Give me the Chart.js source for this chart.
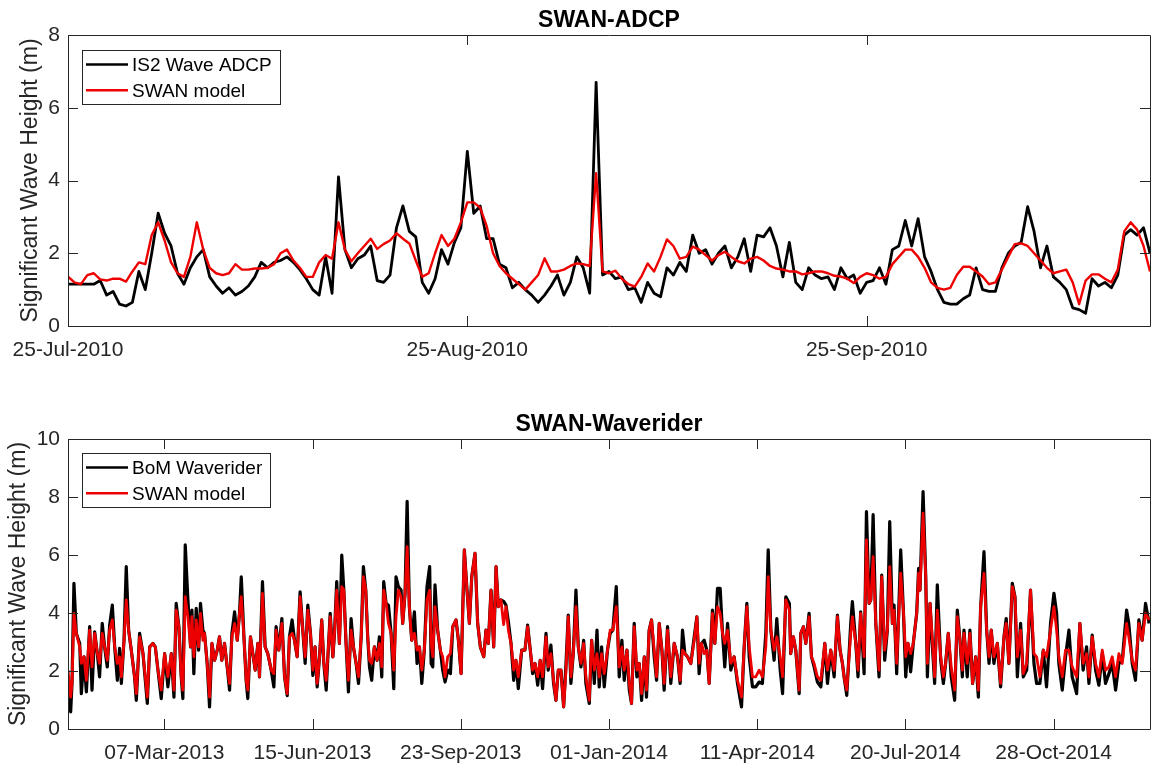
<!DOCTYPE html>
<html><head><meta charset="utf-8">
<script src="https://cdn.jsdelivr.net/npm/chart.js@4.4.1/dist/chart.umd.min.js"></script>
<style>
html,body{margin:0;padding:0;background:#fff;}
#wrap{position:relative;width:1151px;height:765px;overflow:hidden;}
#c1{position:absolute;left:0;top:0;}
#c2{position:absolute;left:0;top:370px;}
</style></head><body>
<div id="wrap">
<canvas id="c1" width="1151" height="370"></canvas>
<canvas id="c2" width="1151" height="395"></canvas>
</div>
<script>
// ---------- Panel 1: SWAN-ADCP (half-day samples from 25-Jul-2010) ----------
const adcpStepDays = 0.5;
const adcpObs = [
1.15,1.15,1.15,1.15,1.15,1.25,0.85,0.95,0.6,0.55,
0.65,1.5,1.0,2.0,3.1,2.55,2.2,1.45,1.15,1.6,
1.9,2.1,1.35,1.1,0.9,1.05,0.85,0.95,1.1,1.35,
1.75,1.6,1.75,1.8,1.9,1.75,1.55,1.3,1.0,0.85,
1.9,0.9,4.1,2.1,1.6,1.85,1.95,2.2,1.25,1.2,
1.4,2.7,3.3,2.6,2.45,1.2,0.9,1.3,2.1,1.7,
2.3,2.7,4.8,3.1,3.3,2.4,2.4,1.7,1.6,1.05,
1.2,1.0,0.85,0.65,0.85,1.1,1.4,0.85,1.2,1.9,
1.6,0.9,6.7,1.4,1.5,1.3,1.35,1.0,1.05,0.65,
1.2,0.9,0.8,1.6,1.4,1.75,1.5,2.5,2.0,2.1,
1.7,2.0,2.2,1.6,1.9,2.4,1.5,2.5,2.45,2.7,
2.2,1.35,2.3,1.2,1.0,1.6,1.4,1.3,1.35,1.0,
1.6,1.3,1.4,0.9,1.2,1.25,1.6,1.15,2.1,2.2,
2.9,2.2,2.95,1.9,1.5,1.0,0.65,0.6,0.6,0.75,
0.85,1.6,1.0,0.95,0.95,1.6,2.0,2.2,2.3,3.28,
2.6,1.6,2.2,1.35,1.2,1.0,0.5,0.45,0.35,1.3,
1.1,1.2,1.05,1.4,2.5,2.65,2.5,2.7,2.0];
const adcpSwan = [
1.36,1.2,1.15,1.4,1.45,1.28,1.25,1.3,1.3,1.22,
1.5,1.75,1.7,2.5,2.85,2.35,1.75,1.45,1.35,1.9,
2.85,2.1,1.6,1.45,1.4,1.45,1.7,1.55,1.55,1.58,
1.58,1.6,1.7,2.0,2.1,1.8,1.6,1.35,1.35,1.75,
1.95,1.85,2.85,2.1,1.78,2.0,2.2,2.4,2.12,2.25,
2.35,2.55,2.4,2.27,1.8,1.35,1.45,2.0,2.5,2.2,
2.4,2.85,3.4,3.4,3.25,2.75,2.0,1.65,1.45,1.3,
1.15,1.0,1.2,1.4,1.86,1.5,1.5,1.55,1.65,1.72,
1.7,1.65,4.2,1.5,1.45,1.52,1.3,1.15,1.08,1.35,
1.72,1.5,1.9,2.38,2.2,1.85,1.9,2.18,2.1,1.95,
1.8,1.95,2.04,1.9,1.78,1.72,1.85,1.9,1.8,1.65,
1.58,1.55,1.5,1.5,1.42,1.45,1.5,1.5,1.45,1.38,
1.36,1.3,1.18,1.35,1.45,1.4,1.3,1.35,1.7,1.9,
2.1,2.1,1.9,1.6,1.2,1.05,1.0,1.05,1.4,1.63,
1.63,1.5,1.36,1.15,1.2,1.55,1.9,2.25,2.27,2.2,
2.0,1.8,1.6,1.45,1.5,1.55,1.2,0.6,1.25,1.42,
1.42,1.3,1.2,1.55,2.6,2.85,2.65,2.2,1.5];
const adcpTickDay = [0, 31, 62];
const adcpTickLabel = ['25-Jul-2010', '25-Aug-2010', '25-Sep-2010'];
const adcpRangeDays = [0, 84];

// ---------- Panel 2: SWAN-Waverider (days since 01-Jan-2013) ----------
const wrDay = [
0,1.8,2.7,4.0,5.6,7.9,9.0,10.8,12.4,14.6,
16.2,18.0,19.8,21.3,23.1,24.7,26.5,28.1,29.9,31.5,
33.3,34.8,36.0,37.8,39.3,40.9,42.7,44.9,46.1,48.3,
50.6,53.5,55.1,57.3,58.9,60.7,62.9,65.2,67.4,69.7,
71.5,73.0,74.8,76.4,77.5,79.1,80.9,82.7,83.6,84.9,
86.5,88.1,89.4,91.0,92.1,93.9,95.5,97.1,98.9,100.7,
102.2,103.8,105.6,107.4,109.0,110.6,112.4,114.2,115.7,116.9,
118.7,120.2,121.3,123.1,124.7,126.3,128.1,129.2,131.2,133.0,
134.8,137.1,138.9,140.4,142.2,144.3,146.1,147.9,149.4,151.2,
152.8,154.6,156.6,158.4,160.0,161.8,163.6,165.2,166.7,168.1,
169.7,171.2,172.6,174.2,175.7,176.9,178.7,179.8,181.3,183.1,
184.7,186.1,187.6,189.2,191.0,192.6,194.4,196.0,197.8,199.3,
200.9,202.2,203.4,204.9,206.7,208.5,210.1,211.7,213.0,214.6,
216.2,218.0,219.8,221.3,222.9,224.7,225.8,227.4,228.8,230.3,
231.9,233.7,235.5,237.1,238.7,240.4,242.2,244.0,
245.0,246.1,247.6,249.4,251.2,252.8,254.4,256.2,258.0,259.6,
261.8,263.4,265.2,267.4,269.2,270.8,272.4,274.6,276.4,278.2,
280.5,282.0,283.6,285.4,287.2,288.8,290.3,292.1,293.9,295.5,
297.1,298.9,300.7,302.2,303.8,306.1,308.3,310.1,311.9,313.5,
315.1,316.9,318.6,320.2,322.5,324.0,325.8,327.6,329.2,330.8,
332.6,334.4,336.0,337.5,339.3,340.9,342.7,344.3,346.1,347.9,
349.4,351.7,353.3,355.1,356.9,358.4,360.0,361.8,364.0,365.8,
367.6,369.9,371.9,373.7,375.3,377.1,378.7,380.2,382.0,383.8,
385.4,387.0,388.8,390.3,392.1,393.7,395.5,397.1,398.9,400.7,
402.2,404.5,406.7,409.0,411.2,413.0,414.6,416.2,418.0,420.2,
422.5,424.3,425.8,427.4,429.2,431.0,432.6,434.8,436.4,438.2,
440.0,441.6,443.1,445.0,447.2,449.4,451.7,454.4,456.2,458.0,
459.6,461.8,464.0,466.3,468.5,470.8,472.4,474.2,476.4,478.2,
480.5,482.1,484.3,486.7,
487.6,489.4,491.0,493.3,494.4,496.2,497.8,500.0,501.6,503.4,
505.6,507.9,510.6,512.4,514.6,516.9,519.1,520.9,522.5,523.6,
525.4,528.1,529.2,531.5,533.0,534.8,537.1,538.7,540.5,541.6,
543.2,545.0,547.2,549.0,551.0,552.8,554.4,556.2,557.3,559.1,
561.8,563.6,565.2,566.7,568.5,570.3,572.6,573.9,574.8,576.9,
578.7,579.8,581.6,583.2,584.7,586.5,588.8,590.6,592.1,593.9,
595.9,598.2,600.0,601.8,603.4,604.5,606.7,608.5,610.3,612.4,
614.2,615.7,618.0,619.8,621.4,622.9,624.7,627.0,629.2,631.5,
633.0,634.8,637.1,638.9,640.5,642.7,644.5,646.8,649.4,651.7,
653.5,655.7,658.0,660.2,662.9,665.2,667.0,668.5,670.8,673.0,
675.3,677.5,680.5,682.7,684.9,687.2,688.8,691.0,693.3,695.5,
697.8,700.0,702.3,704.5,706.8,709.0,711.3,714.2,715.7,718.0,
720.2,722.5,724.7,727.0,729.4];
const wrBuoy = [
1.8,0.59,1.57,5.02,3.3,2.95,1.22,2.49,1.28,3.53,
1.34,3.35,2.6,1.8,3.64,2.83,2.14,3.58,4.27,2.83,
1.68,2.78,1.57,3.06,5.6,3.41,2.72,1.8,0.99,3.3,
2.6,0.88,2.83,2.95,2.83,2.03,1.05,2.6,1.45,2.6,
1.1,4.33,3.53,1.8,1.05,6.35,4.45,2.83,4.1,1.91,
4.16,2.72,4.33,3.41,3.3,2.26,0.76,2.95,2.37,2.72,
3.18,2.37,2.95,2.14,1.34,3.3,4.04,3.06,3.99,5.25,
3.18,1.68,1.05,3.18,2.6,2.03,2.95,1.8,5.08,2.83,
2.6,2.03,1.45,3.53,2.72,3.81,1.8,1.15,3.18,3.76,
3.06,2.49,4.73,3.41,2.26,4.27,3.3,1.85,2.83,1.45,
2.49,3.76,2.26,1.34,2.83,3.99,2.49,3.3,5.08,2.95,
6.0,4.79,2.95,1.28,3.81,2.83,2.26,1.57,3.18,5.6,
4.79,3.18,2.14,1.68,2.83,2.37,3.18,1.8,5.08,4.33,
4.27,3.3,1.39,5.25,4.91,4.79,3.64,4.68,7.85,4.22,
3.06,4.04,2.26,2.83,1.57,2.72,4.91,5.6,
2.26,2.14,4.97,3.41,2.72,2.03,1.62,2.03,1.91,3.53,
3.76,3.06,1.91,6.18,4.79,3.64,5.25,6.06,3.64,2.83,
2.49,3.41,2.95,4.79,2.83,5.6,4.22,4.45,4.4,4.27,
3.7,2.95,1.68,2.37,1.39,2.72,2.72,3.58,2.72,1.91,
2.26,1.51,2.37,1.39,3.3,2.03,2.89,1.57,0.99,2.03,
2.03,0.76,2.26,3.93,1.57,2.6,4.79,2.83,2.14,3.06,
1.57,0.88,3.06,1.57,3.41,1.45,2.83,1.45,2.72,3.3,
3.41,4.91,1.8,3.06,1.68,2.72,1.34,0.88,3.64,1.8,
2.26,0.99,2.49,1.1,3.41,3.76,2.49,1.68,3.64,2.72,
1.34,3.53,1.57,2.95,2.49,1.57,3.41,2.6,2.49,2.26,
3.18,3.87,1.91,2.95,3.06,2.72,1.57,4.1,2.95,4.85,
4.85,3.3,2.14,3.64,2.03,2.49,1.57,0.76,2.83,4.33,
2.49,1.45,1.45,1.62,1.57,3.3,6.18,3.41,2.37,3.81,
2.03,1.22,4.56,4.33,
2.6,3.18,2.72,1.22,3.3,3.53,2.95,3.99,2.49,2.14,
1.62,1.45,2.95,1.57,2.72,1.8,3.93,2.72,2.26,1.8,
1.16,3.64,4.39,2.95,1.8,4.04,1.91,7.5,4.33,4.45,
7.39,3.64,1.8,5.31,2.37,3.41,7.15,3.64,4.27,1.91,
6.18,4.1,1.8,2.95,1.97,2.95,3.99,5.54,4.79,8.19,
5.25,1.8,4.33,2.83,1.57,4.97,2.37,1.57,2.26,3.3,
1.8,0.99,4.1,3.06,1.8,3.41,1.8,3.41,1.57,2.49,
1.1,4.16,6.12,3.41,2.26,3.41,2.26,2.95,1.45,3.18,
3.81,2.26,5.02,4.56,1.8,3.64,1.8,2.03,4.79,2.26,
1.57,1.57,2.72,1.45,3.64,4.68,3.99,2.26,1.34,2.49,
3.41,1.8,1.22,3.64,2.03,2.83,1.57,3.24,2.03,1.51,
2.6,1.57,1.91,2.26,1.34,2.26,2.37,4.1,3.64,2.26,
1.68,3.76,3.06,4.33,3.64];
const wrSwan = [
2.03,1.1,1.57,3.99,3.3,2.83,2.26,2.49,1.68,3.41,
2.14,3.3,2.6,2.26,3.3,2.83,2.37,3.41,3.76,2.83,
2.26,2.49,1.8,3.06,4.45,3.41,2.72,1.8,1.22,3.18,
2.6,1.1,2.83,2.95,2.83,2.03,1.34,2.6,1.8,2.6,
1.34,4.1,3.53,1.8,1.34,4.56,3.87,2.83,3.87,2.49,
3.76,2.83,3.99,3.06,3.3,2.26,1.1,2.95,2.37,2.72,
3.18,2.37,2.95,2.14,1.57,3.18,3.64,3.06,3.99,4.56,
3.18,1.68,1.34,3.18,2.6,2.03,2.95,1.8,4.68,2.83,
2.6,2.03,1.91,3.41,2.72,3.64,1.8,1.22,3.18,3.3,
3.06,2.49,4.56,3.41,2.49,4.1,3.3,2.03,2.83,1.57,
2.49,3.76,2.26,1.68,2.83,3.87,2.49,3.3,4.79,2.95,
4.91,4.79,2.95,1.68,3.41,2.83,2.26,1.8,3.18,5.25,
4.79,3.18,2.37,2.26,2.83,2.37,2.95,2.14,4.79,4.33,
3.64,3.3,2.03,3.87,4.79,4.56,3.64,4.68,6.29,4.22,
3.06,3.3,2.72,2.83,2.03,2.72,4.45,4.79,
2.95,2.49,4.22,3.41,2.72,2.49,1.8,2.49,2.6,3.53,
3.76,3.06,1.91,6.18,4.79,3.64,5.25,6.06,3.64,2.83,
2.49,3.41,2.95,4.79,2.83,5.6,4.22,4.45,3.6,4.22,
3.41,2.95,2.03,2.37,1.8,2.72,2.72,3.53,2.72,2.03,
2.26,1.8,2.37,1.8,3.18,2.14,2.6,1.68,0.99,2.03,
2.03,0.76,2.03,3.87,1.8,2.6,4.22,2.83,2.26,2.95,
1.8,0.99,3.06,2.03,2.6,1.8,2.6,1.91,2.72,3.41,
3.41,4.22,2.14,2.83,2.03,2.72,1.57,0.88,3.53,2.03,
2.26,1.22,2.49,1.34,3.41,3.76,2.72,1.8,3.64,2.72,
1.57,3.41,1.8,2.95,2.49,1.68,2.72,2.6,2.49,2.26,
3.06,3.87,2.26,2.95,2.6,2.72,1.57,3.99,2.95,4.22,
3.99,3.3,2.95,3.41,2.26,2.49,1.68,1.1,2.83,4.22,
2.83,1.8,1.8,2.03,1.8,2.83,5.25,3.41,2.72,3.18,
2.49,1.8,4.45,4.1,
2.6,3.18,2.72,1.34,3.3,3.53,2.95,3.87,2.49,2.26,
1.8,1.68,2.95,2.03,2.72,2.03,3.87,2.72,2.26,1.8,
1.34,3.3,3.87,2.95,2.03,3.99,2.49,6.52,4.33,4.45,
5.94,3.64,2.03,5.25,2.72,3.41,5.6,3.64,4.1,2.26,
5.37,4.1,2.49,2.95,2.6,2.95,3.99,5.37,4.79,7.44,
5.25,2.26,4.33,3.06,1.8,4.1,2.49,1.8,2.26,3.3,
2.14,1.34,3.87,3.06,2.03,3.3,2.26,3.3,1.57,2.49,
1.34,4.22,5.37,3.41,2.49,3.41,2.49,2.95,1.57,3.18,
3.64,2.26,4.91,4.56,2.49,3.41,1.91,2.26,4.79,2.6,
2.49,1.8,2.72,2.49,3.41,4.22,3.41,2.49,1.8,2.72,
2.72,2.14,1.8,3.64,2.26,2.6,1.8,3.18,2.26,1.8,
2.72,2.03,2.14,2.49,1.8,2.6,2.26,3.64,3.18,2.37,
2.03,3.64,3.06,3.99,3.76];
const wrTickDay = [65, 165, 265, 365, 465, 565, 665];
const wrTickLabel = ['07-Mar-2013','15-Jun-2013','23-Sep-2013','01-Jan-2014','11-Apr-2014','20-Jul-2014','28-Oct-2014'];
const wrRangeDays = [0, 730];

// ---------- styling ----------
const FONT = '"Liberation Sans", Arial, Helvetica, sans-serif';
const AX = '#262626';
const RED = '#ee0000';

const matlabAxes = {
  id: 'matlabAxes',
  afterDraw(chart, args, o) {
    const {ctx, chartArea: a, scales: {x, y}} = chart;
    ctx.save();
    ctx.strokeStyle = AX; ctx.lineWidth = 1;
    ctx.beginPath();
    ctx.rect(a.left + 0.5, a.top + 0.5, a.right - a.left, a.bottom - a.top);
    const L = 10;
    x.ticks.forEach(t => {
      const px = Math.round(x.getPixelForValue(t.value)) + 0.5;
      ctx.moveTo(px, a.bottom); ctx.lineTo(px, a.bottom - L);
      ctx.moveTo(px, a.top); ctx.lineTo(px, a.top + L);
    });
    y.ticks.forEach(t => {
      const py = Math.round(y.getPixelForValue(t.value)) + 0.5;
      ctx.moveTo(a.left, py); ctx.lineTo(a.left + L, py);
      ctx.moveTo(a.right, py); ctx.lineTo(a.right - L, py);
    });
    ctx.stroke();
    // title
    ctx.fillStyle = '#000';
    ctx.font = 'bold 23px ' + FONT;
    ctx.textAlign = 'center'; ctx.textBaseline = 'alphabetic';
    ctx.fillText(o.title, (a.left + a.right) / 2, a.top - 8);
    // legend box
    ctx.font = '19px ' + FONT;
    const ds = chart.data.datasets;
    const tw = Math.max(...ds.map(d => ctx.measureText(d.label).width));
    const bx = Math.round(a.left + 14), by = Math.round(a.top + o.legendDy);
    const bw = Math.round(50 + tw + 8), bh = 54;
    ctx.fillStyle = '#fff'; ctx.fillRect(bx, by, bw, bh);
    ctx.strokeStyle = AX; ctx.lineWidth = 1;
    ctx.strokeRect(bx + 0.5, by + 0.5, bw, bh);
    ds.forEach((d, i) => {
      const yy = by + 14.5 + i * 25.8;
      ctx.strokeStyle = d.borderColor; ctx.lineWidth = 2.6;
      ctx.beginPath(); ctx.moveTo(bx + 4, yy); ctx.lineTo(bx + 46, yy); ctx.stroke();
      ctx.fillStyle = '#000'; ctx.textAlign = 'left'; ctx.textBaseline = 'middle';
      ctx.fillText(d.label, bx + 50, yy + 1);
    });
    ctx.restore();
  }
};

function makeChart(id, cfg) {
  return new Chart(document.getElementById(id), {
    type: 'line',
    data: {
      datasets: [
        { label: cfg.obsLabel, data: cfg.days.map((d, i) => ({x: d, y: cfg.obs[i]})),
          borderColor: '#000000', borderWidth: cfg.lwObs, pointRadius: 0, tension: 0, order: 1,
          borderJoinStyle: 'round' },
        { label: 'SWAN model', data: cfg.swanDays.map((d, i) => ({x: d, y: cfg.swan[i]})),
          borderColor: RED, borderWidth: cfg.lwSwan, pointRadius: 0, tension: 0, order: 0,
          borderJoinStyle: 'round' }
      ]
    },
    options: {
      responsive: false, animation: false, events: [],
      layout: { padding: { top: cfg.padTop, right: 1, bottom: 0, left: 0 } },
      plugins: { legend: { display: false }, tooltip: { enabled: false },
        matlabAxes: { title: cfg.title, legendDy: cfg.legendDy } },
      scales: {
        x: { type: 'linear', min: cfg.range[0], max: cfg.range[1],
          afterBuildTicks: s => { s.ticks = cfg.tickDay.map(v => ({value: v})); },
          ticks: { autoSkip: false, maxRotation: 0, minRotation: 0, padding: 12,
            color: AX, font: { family: FONT, size: 21 },
            callback: (v, i) => cfg.tickLabel[i] },
          grid: { display: false, drawTicks: false }, border: { display: false },
          afterFit: s => { s.height = cfg.xAxisH; } },
        y: { type: 'linear', min: 0, max: cfg.ymax,
          ticks: { stepSize: 2, padding: 8, color: AX, font: { family: FONT, size: 21 } },
          grid: { display: false, drawTicks: false }, border: { display: false },
          title: { display: true, text: 'Significant Wave Height (m)', color: AX,
            font: { family: FONT, size: 23 }, padding: { top: cfg.yTitlePad, bottom: 0 } },
          afterFit: s => { s.width = 68; } }
      }
    },
    plugins: [matlabAxes]
  });
}

const adcpDay = adcpObs.map((_, i) => i * adcpStepDays);
makeChart('c1', {
  title: 'SWAN-ADCP', obsLabel: 'IS2 Wave ADCP',
  days: adcpDay, obs: adcpObs, swanDays: adcpDay, swan: adcpSwan,
  range: adcpRangeDays, tickDay: adcpTickDay, tickLabel: adcpTickLabel,
  ymax: 8, padTop: 35, xAxisH: 44, yTitlePad: 17, legendDy: 15, lwObs: 2.8, lwSwan: 2.4
});
makeChart('c2', {
  title: 'SWAN-Waverider', obsLabel: 'BoM Waverider',
  days: wrDay, obs: wrBuoy, swanDays: wrDay, swan: wrSwan,
  range: wrRangeDays, tickDay: wrTickDay, tickLabel: wrTickLabel,
  ymax: 10, padTop: 69, xAxisH: 36, yTitlePad: 5, legendDy: 14, lwObs: 3.2, lwSwan: 2.8
});
</script>
</body></html>
